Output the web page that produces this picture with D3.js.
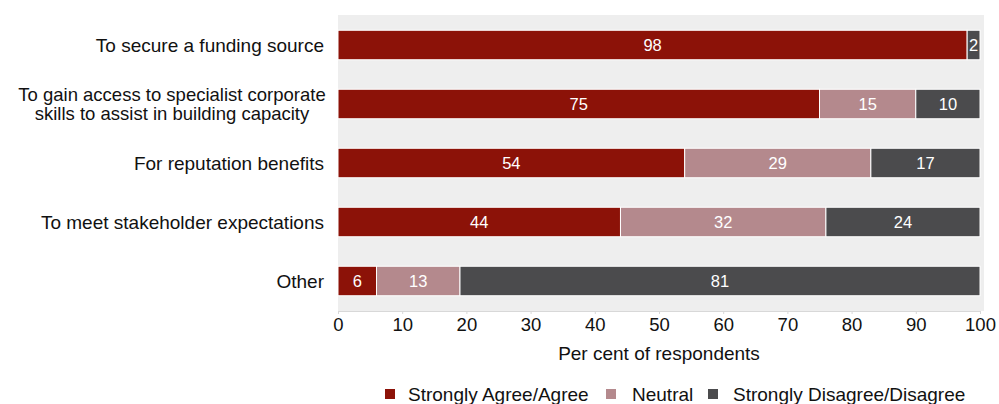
<!DOCTYPE html>
<html><head><meta charset="utf-8">
<script src="https://cdn.jsdelivr.net/npm/d3@7"></script>
<style>body{margin:0;background:#fff;}svg{display:block;font-family:"Liberation Sans",Arial,sans-serif;}</style>
</head><body><svg id="c" width="999" height="404"></svg>
<script>
const categories = ["To secure a funding source",
  "To gain access to specialist corporate\nskills to assist in building capacity",
  "For reputation benefits",
  "To meet stakeholder expectations",
  "Other"];
const agree = [98, 75, 54, 44, 6];
const neutral = [0, 15, 29, 32, 13];
const disagree = [2, 10, 17, 24, 81];
const seriesNames = ["Strongly Agree/Agree", "Neutral", "Strongly Disagree/Disagree"];
const colors = ["#8c1208", "#b4898d", "#4b4b4d"];
const ticks = [0,10,20,30,40,50,60,70,80,90,100];

const svg = d3.select("#c");
const x = d3.scaleLinear().domain([0,100]).range([338, 980]);
const y = d3.scaleBand().domain(categories).range([15.5, 310.5]).paddingInner(0.5).paddingOuter(0.25);

// plot background
svg.append("rect").attr("x", x(0)).attr("y", 15).attr("width", x(100)-x(0)+4).attr("height", 296)
  .attr("fill", "#eeeeee");

const rows = categories.map((c,i)=>({cat:c, vals:[agree[i], neutral[i], disagree[i]]}));
rows.forEach(r=>{
  let acc = 0;
  r.vals.forEach((v,j)=>{
    if (v<=0) return;
    const x0 = acc, x1 = acc+v; acc = x1;
    svg.append("rect").attr("x", x(x0)).attr("y", y(r.cat)).attr("width", x(x1)-x(x0))
      .attr("height", y.bandwidth()).attr("fill", colors[j]).attr("stroke","#fff").attr("stroke-width",1);
    svg.append("text").attr("x", (x(x0)+x(x1))/2).attr("y", y(r.cat)+y.bandwidth()/2)
      .attr("dy","0.36em").attr("text-anchor","middle").attr("fill","#fff")
      .attr("font-size", 16.5).text(v);
  });
});

// category labels
categories.forEach(c=>{
  const lines = c.split("\n");
  const t = svg.append("text").attr("font-size",lines.length>1 ? 18.5 : 19).attr("fill","#111")
    .attr("text-anchor", lines.length>1 ? "middle" : "end");
  const cy = y(c)+y.bandwidth()/2;
  const lh = 19;
  lines.forEach((l,k)=>{
    t.append("tspan").attr("x", lines.length>1 ? 172 : 324)
      .attr("y", cy + (k-(lines.length-1)/2)*lh).attr("dy","0.36em").text(l);
  });
});

// x axis
const ax = svg.append("g").attr("transform","translate(0,311)")
  .call(d3.axisBottom(x).tickValues(ticks).tickSize(3).tickPadding(4));
ax.select(".domain").attr("stroke","#d8d8d8");
ax.selectAll(".tick line").attr("stroke","#d8d8d8");
ax.selectAll(".tick text").attr("font-size",18.5).attr("fill","#111")
  .attr("font-family","'Liberation Sans',Arial,sans-serif");

svg.append("text").attr("x", (x(0)+x(100))/2).attr("y", 353).attr("dy","0.36em").attr("text-anchor","middle")
  .attr("font-size",19).attr("fill","#111").text("Per cent of respondents");

// legend
const legX = [385, 606, 708];
const legT = [408, 632, 733];
seriesNames.forEach((s,i)=>{
  svg.append("rect").attr("x", legX[i]).attr("y", 389).attr("width",10).attr("height",10).attr("fill",colors[i]);
  svg.append("text").attr("x", legT[i]).attr("y", 394).attr("dy","0.36em")
    .attr("font-size",19).attr("fill","#111").text(s);
});
</script></body></html>
